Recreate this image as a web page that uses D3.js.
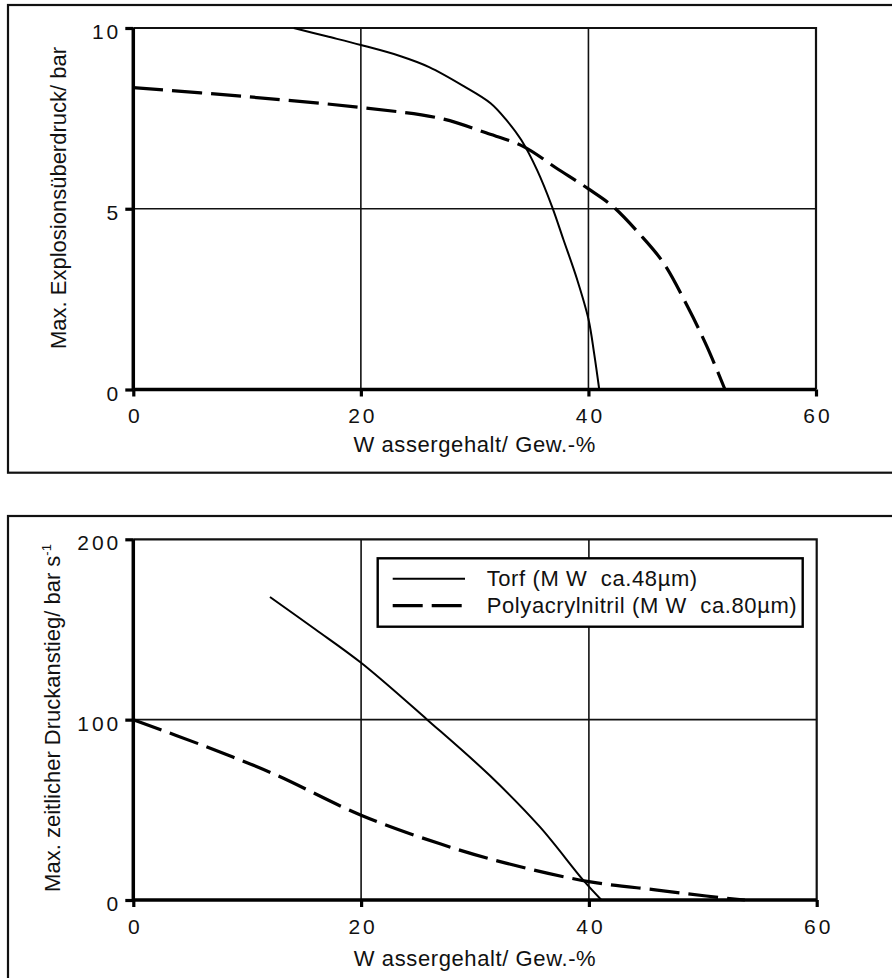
<!DOCTYPE html>
<html>
<head>
<meta charset="utf-8">
<script src="https://cdn.jsdelivr.net/npm/d3@7/dist/d3.min.js"></script>
<style>
  html, body { margin: 0; padding: 0; background: #fff; }
  svg { display: block; }
  text { font-family: "Liberation Sans", Arial, sans-serif; fill: #111; }
</style>
</head>
<body>
<svg id="chart" width="892" height="978"></svg>
<script>
// ---- Data ----
const xTicks = [0, 20, 40, 60];
const xTitle = "W assergehalt/ Gew.-%";

const topYTicks = [0, 5, 10];
const topYTitle = "Max. Explosionsüberdruck/ bar";
// Torf: [Wassergehalt %, p_max bar]
const topTorf = [[14.1,10],[17,9.77],[20,9.53],[23.5,9.22],[26,8.92],[29,8.4],[31.4,7.92],[32.8,7.45],[34.1,6.9],[35.5,6.06],[36.8,5.06],[37.8,4.15],[39,3.05],[40,1.95],[40.5,1.0],[40.95,0]];
// Polyacrylnitril
const topPAN = [[0,8.35],[10,8.1],[20,7.8],[27,7.5],[31,7.1],[34.3,6.72],[37.2,6.12],[40,5.55],[42.2,5.05],[44.5,4.3],[46.6,3.5],[48.7,2.3],[50.4,1.2],[52,0]];

const botYTicks = [0, 100, 200];
const botYTitle = "Max. zeitlicher Druckanstieg/ bar s";
const botYTitleSup = "-1";
// Torf: [Wassergehalt %, (dp/dt)max bar/s]
const botTorf = [[12,168],[16,150],[20,131.5],[25.8,100],[31.3,69],[35.7,40.5],[39.5,11],[41.1,0]];
const botPAN = [[0,100],[6.4,85],[12.3,70],[20,47],[27,31],[32.8,20.3],[40,10.2],[46,5.5],[50.3,2.2],[53.7,0]];

const legendLabels = ["Torf (M W  ca.48µm)", "Polyacrylnitril (M W  ca.80µm)"];

// ---- Drawing ----
const svg = d3.select("#chart");

function panel(opt) {
  const g = svg.append("g");
  // outer frame
  g.append("rect")
    .attr("x", opt.frame[0]).attr("y", opt.frame[1])
    .attr("width", opt.frame[2]).attr("height", opt.frame[3])
    .attr("fill", "none").attr("stroke", "#111").attr("stroke-width", 2.2);

  const x = d3.scaleLinear().domain([0, 60]).range([opt.x0, opt.x1]);
  const y = d3.scaleLinear().domain(opt.yDomain).range([opt.y0, opt.y1]);

  // grid
  g.selectAll(".vgrid").data(xTicks.filter(d => d > 0 && d < 60)).enter()
    .append("line")
    .attr("x1", d => x(d)).attr("x2", d => x(d))
    .attr("y1", opt.y0).attr("y2", opt.y1)
    .attr("stroke", "#111").attr("stroke-width", 1.6);
  const ymid = opt.yTicks.filter(d => d > opt.yDomain[0] && d < opt.yDomain[1]);
  g.selectAll(".hgrid").data(ymid).enter()
    .append("line")
    .attr("x1", opt.x0).attr("x2", opt.x1)
    .attr("y1", d => y(d)).attr("y2", d => y(d))
    .attr("stroke", "#111").attr("stroke-width", 1.6);
  // top and right border
  g.append("path")
    .attr("d", `M${opt.x0},${opt.y1}H${opt.x1}V${opt.y0}`)
    .attr("fill", "none").attr("stroke", "#111").attr("stroke-width", 2.2);

  // axes
  const xa = g.append("g").attr("transform", `translate(0,${opt.y0})`)
    .call(d3.axisBottom(x).tickValues(xTicks).tickSize(7).tickPadding(12).tickFormat(d3.format("d")));
  const ya = g.append("g").attr("transform", `translate(${opt.x0},0)`)
    .call(d3.axisLeft(y).tickValues(opt.yTicks).tickSize(8).tickPadding(4).tickFormat(d3.format("d")));
  [xa, ya].forEach(a => {
    a.select(".domain").attr("stroke", "#000").attr("stroke-width", 3.5);
    a.selectAll(".tick line").attr("stroke", "#000").attr("stroke-width", 3.2);
    a.selectAll(".tick text").attr("font-size", 21).attr("letter-spacing", 3)
      .style("font-family", "Liberation Sans, Arial, sans-serif").attr("fill", "#111");
  });
  ya.select(".domain").attr("d", `M0,${opt.y0}V${opt.y1}`);
  xa.select(".domain").attr("d", `M${opt.x0},0H${opt.x1}`);
  ya.selectAll(".tick text").attr("dy", "0.5em");
  xa.selectAll(".tick text").attr("dy", "0.71em").attr("dx", 1.5);

  // lines
  const line = d3.line().x(d => x(d[0])).y(d => y(d[1])).curve(d3.curveCatmullRom.alpha(0.5));
  g.append("path").datum(opt.torf).attr("d", line)
    .attr("fill", "none").attr("stroke", "#000").attr("stroke-width", 2);
  g.append("path").datum(opt.pan).attr("d", line)
    .attr("fill", "none").attr("stroke", "#000").attr("stroke-width", 3.2)
    .attr("stroke-dasharray", "30,9");

  // x title
  g.append("text").attr("x", (opt.x0 + opt.x1) / 2).attr("y", opt.xTitleY)
    .attr("text-anchor", "middle").attr("font-size", 22).attr("letter-spacing", 0.6)
    .style("white-space", "pre")
    .text(xTitle);

  // y title
  const yt = g.append("text")
    .attr("transform", `translate(${opt.yTitleX},${opt.yTitleCY}) rotate(-90)`)
    .attr("text-anchor", "middle").attr("font-size", 22);
  yt.append("tspan").text(opt.yTitle);
  if (opt.yTitleSup) {
    yt.append("tspan").attr("font-size", 13).attr("dy", -9).text(opt.yTitleSup);
  }
  return {x, y, g};
}

panel({
  frame: [8, 5, 900, 467.7],
  x0: 133.3, x1: 816, y0: 389.5, y1: 28,
  yDomain: [0, 10], yTicks: topYTicks,
  torf: topTorf, pan: topPAN,
  xTitleY: 452, yTitleX: 66, yTitleCY: 198, yTitle: topYTitle
});

const bot = panel({
  frame: [8, 516, 900, 500],
  x0: 133.3, x1: 816.7, y0: 900, y1: 539.3,
  yDomain: [0, 200], yTicks: botYTicks,
  torf: botTorf, pan: botPAN,
  xTitleY: 966, yTitleX: 59.5, yTitleCY: 718, yTitle: botYTitle, yTitleSup: botYTitleSup
});

// legend
const lg = bot.g.append("g");
lg.append("rect").attr("x", 377.7).attr("y", 558.3).attr("width", 425).attr("height", 68.4)
  .attr("fill", "#fff").attr("stroke", "#000").attr("stroke-width", 2.4);
const rows = [578.7, 605.7];
const styles = [{w: 2, dash: null}, {w: 3.2, dash: "30,9"}];
legendLabels.forEach((lab, i) => {
  lg.append("line").attr("x1", 392.7).attr("x2", 465).attr("y1", rows[i]).attr("y2", rows[i])
    .attr("stroke", "#000").attr("stroke-width", styles[i].w)
    .attr("stroke-dasharray", styles[i].dash);
  lg.append("text").attr("x", 486.7).attr("y", rows[i] + 7.5)
    .attr("font-size", 22).attr("letter-spacing", 0.6).style("white-space", "pre").text(lab);
});
</script>
</body>
</html>
